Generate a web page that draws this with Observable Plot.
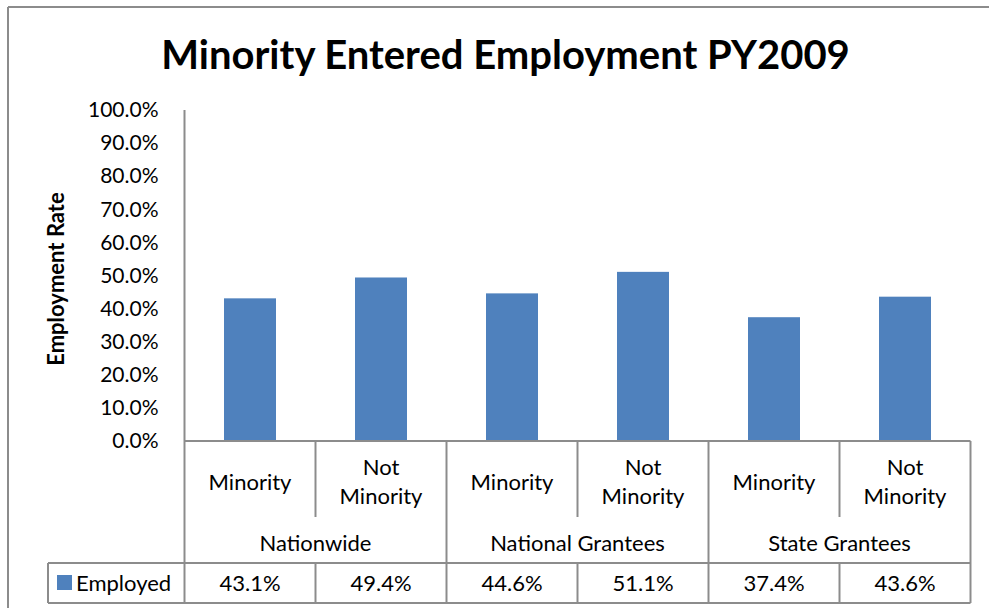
<!DOCTYPE html>
<html>
<head>
<meta charset="utf-8">
<script src="https://cdn.jsdelivr.net/npm/d3@7"></script>
<script src="https://cdn.jsdelivr.net/npm/@observablehq/plot@0.6"></script>
<style>
  html, body { margin: 0; padding: 0; background: #fff; }
  #chart svg { display: block; }
</style>
</head>
<body>
<div id="chart"></div>
<script>
// ---- data ----
const groups = ["Nationwide", "National Grantees", "State Grantees"];
const subcats = ["Minority", "Not Minority"];
const subcatLabels = ["Minority", "Not\nMinority"];
const employed = [0.431, 0.494, 0.446, 0.511, 0.374, 0.436];
const seriesName = "Employed";
const yTicks = [0, 0.1, 0.2, 0.3, 0.4, 0.5, 0.6, 0.7, 0.8, 0.9, 1.0];
const titleText = "Minority Entered Employment PY2009";
const yLabel = "Employment Rate";

const rows = [];
groups.forEach((g, gi) => subcats.forEach((s, si) => {
  rows.push({group: g, sub: s, label: subcatLabels[si], key: g + "|" + s, value: employed[gi * subcats.length + si]});
}));
const keys = rows.map(d => d.key);

const fmt = d3.format(".1%");
const FONT = "Lato, 'Open Sans', sans-serif";
const GRID = "#8c8c8c";
const BAR = "#4F81BD";

const chart = Plot.plot({
  width: 989,
  height: 608,
  marginLeft: 183,
  marginRight: 16,
  marginTop: 110,
  marginBottom: 167,
  style: {fontFamily: FONT, background: "white", color: "black", overflow: "visible"},
  x: {type: "band", domain: keys, paddingInner: 0.6, paddingOuter: 0.3, axis: null},
  y: {domain: [0, 1], axis: null},
  marks: [
    Plot.barY(rows, {x: "key", y: "value", fill: BAR}),
    Plot.axisY({ticks: yTicks, tickFormat: fmt, tickSize: 0, tickPadding: 25, fontSize: 21, label: null}),
    Plot.text([titleText], {frameAnchor: "top", textAnchor: "middle", lineAnchor: "middle", dx: -73, dy: -54, fontSize: 40, fontWeight: "bold", fill: "black"}),
    Plot.text([yLabel], {frameAnchor: "left", textAnchor: "middle", lineAnchor: "middle", rotate: -90, dx: -127, dy: 3, fontSize: 22, fontWeight: "bold", fill: "black"})
  ]
});
document.getElementById("chart").appendChild(chart);

// ---- chart border, axis line and data table drawn with the x scale ----
const xs = chart.scale("x");
const ysc = chart.scale("y");
const step = xs.step, bw = xs.bandwidth;
const off = (step - bw) / 2;
const y0 = ysc.apply(0), y1 = ysc.apply(1);
const left = k => xs.apply(k) - off;
const center = k => xs.apply(k) + bw / 2;
const xEnd = xs.apply(keys[keys.length - 1]) + bw + off;
const xStart = left(keys[0]);

const rowSub = y0 + 76;   // bottom of sub-category row
const rowGrp = y0 + 122;  // bottom of group row
const rowVal = y0 + 162;  // bottom of value row
const legendLeft = 48;

const svg = d3.select(chart);
const g = svg.append("g").attr("stroke", GRID).attr("stroke-width", 2).attr("fill", "none");
const line = (xa, ya, xb, yb) => g.append("line").attr("x1", xa).attr("y1", ya).attr("x2", xb).attr("y2", yb);

// outer chart border (top and left)
line(8, 7, 989, 7);
line(8, 7, 8, 608);
// y axis line
line(xStart, y1, xStart, y0);
// horizontal table lines
line(xStart, y0, xEnd, y0);
line(legendLeft, rowGrp, xEnd, rowGrp);
line(legendLeft, rowVal, xEnd, rowVal);
// vertical lines
keys.forEach((k, i) => {
  const x = left(k);
  const isGroupEdge = i % subcats.length === 0;
  line(x, y0, x, isGroupEdge ? rowGrp : rowSub);
  line(x, rowGrp, x, rowVal);
});
line(xEnd, y0, xEnd, rowVal);
line(legendLeft, rowGrp, legendLeft, rowVal);

const t = svg.append("g").attr("font-family", FONT).attr("font-size", 22).attr("fill", "black").attr("text-anchor", "middle");
// sub-category labels
rows.forEach(d => {
  const lines = d.label.split("\n");
  const lh = 29;
  const cy = y0 + 41;
  lines.forEach((s, j) => {
    t.append("text").attr("x", center(d.key)).attr("y", cy + (j - (lines.length - 1) / 2) * lh)
      .attr("dy", "0.35em").text(s);
  });
});
// group labels
groups.forEach((gname, gi) => {
  const ks = keys.slice(gi * subcats.length, (gi + 1) * subcats.length);
  const cx = (left(ks[0]) + left(ks[ks.length - 1]) + step) / 2;
  t.append("text").attr("x", cx).attr("y", (rowSub + rowGrp) / 2 + 3).attr("dy", "0.35em").text(gname);
});
// values
rows.forEach(d => {
  t.append("text").attr("x", center(d.key)).attr("y", (rowGrp + rowVal) / 2).attr("dy", "0.35em").text(fmt(d.value));
});
// legend swatch + name
svg.append("rect").attr("x", 57).attr("y", (rowGrp + rowVal) / 2 - 8).attr("width", 15).attr("height", 15).attr("fill", BAR);
t.append("text").attr("x", 76).attr("y", (rowGrp + rowVal) / 2).attr("dy", "0.35em").attr("text-anchor", "start").text(seriesName);
</script>
</body>
</html>
